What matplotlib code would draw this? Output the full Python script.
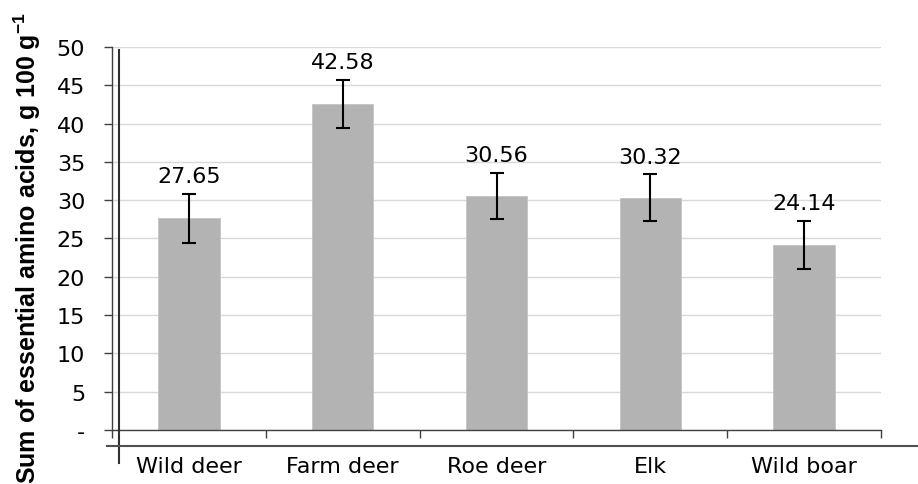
import matplotlib
matplotlib.use("Agg")
import matplotlib.pyplot as plt
from matplotlib.lines import Line2D
import numpy as np

# data
species = ["Wild deer", "Farm deer", "Roe deer", "Elk", "Wild boar"]
eaa_sum = [27.65, 42.58, 30.56, 30.32, 24.14]
eaa_err = [3.2, 3.15, 3.0, 3.05, 3.1]
y_ticks = [0, 5, 10, 15, 20, 25, 30, 35, 40, 45, 50]
y_tick_labels = ["-", "5", "10", "15", "20", "25", "30", "35", "40", "45", "50"]

plt.rcParams["font.family"] = ["DejaVu Sans"]
plt.rcParams["mathtext.fontset"] = "custom"
plt.rcParams["mathtext.rm"] = "Liberation Sans:bold"
plt.rcParams["mathtext.bf"] = "Liberation Sans:bold"

fig = plt.figure(figsize=(9.18, 4.85), dpi=100)
ax = fig.add_axes([112 / 918, 1 - 430.8 / 485, (881 - 112) / 918, (430.8 - 48) / 485])

x = np.arange(len(species))

# grid behind bars
ax.set_axisbelow(True)
ax.yaxis.grid(True, color="#d9d9d9", linewidth=1.0)

ax.bar(x, eaa_sum, width=0.40, color="#b3b3b3", edgecolor="#c4c4c4", linewidth=0.6, zorder=2)
ax.errorbar(x, eaa_sum, yerr=eaa_err, fmt="none", ecolor="black",
            elinewidth=1.5, capsize=5.2, capthick=1.5, zorder=3)

for xi, v, e in zip(x, eaa_sum, eaa_err):
    ax.annotate(f"{v:.2f}", (xi, v + e), xytext=(0, 8.5), textcoords="offset points",
                ha="center", va="baseline", fontsize=16, color="black")

ax.set_xlim(-0.5, len(species) - 0.5)
ax.set_ylim(0, 50)

# axes lines
for s in ["top", "right"]:
    ax.spines[s].set_visible(False)
ax.spines["left"].set_color("#404040")
ax.spines["bottom"].set_color("#404040")
ax.spines["left"].set_linewidth(1.0)
ax.spines["bottom"].set_linewidth(1.0)

ax.set_yticks(y_ticks)
ax.set_yticklabels(y_tick_labels)
ax.tick_params(axis="y", direction="out", length=5.8, width=1.0, color="#404040",
               pad=13.5, labelsize=16)

ax.set_xticks(x)
ax.set_xticklabels(species)
ax.set_xticks(np.arange(-0.5, len(species)), minor=True)
ax.tick_params(axis="x", which="major", length=0, pad=19, labelsize=16)
ax.tick_params(axis="x", which="minor", direction="out", length=5.8, width=1.0, color="#404040")

fig.text(27 / 918, 1 - 248 / 485, "Sum of essential amino acids, g 100 g$^{\\mathbf{-1}}$",
         rotation=90, ha="center", va="center", fontsize=18, fontweight="bold",
         family="Liberation Sans")

# frame lines around the plot
fig.add_artist(Line2D([118.5 / 918, 118.5 / 918], [1 - 51 / 485, 1 - 464 / 485],
                      transform=fig.transFigure, color="#303030", linewidth=1.5))
fig.add_artist(Line2D([107 / 918, 917 / 918], [1 - 447 / 485, 1 - 447 / 485],
                      transform=fig.transFigure, color="#505050", linewidth=1.5))

fig.savefig("out.png", dpi=100)
